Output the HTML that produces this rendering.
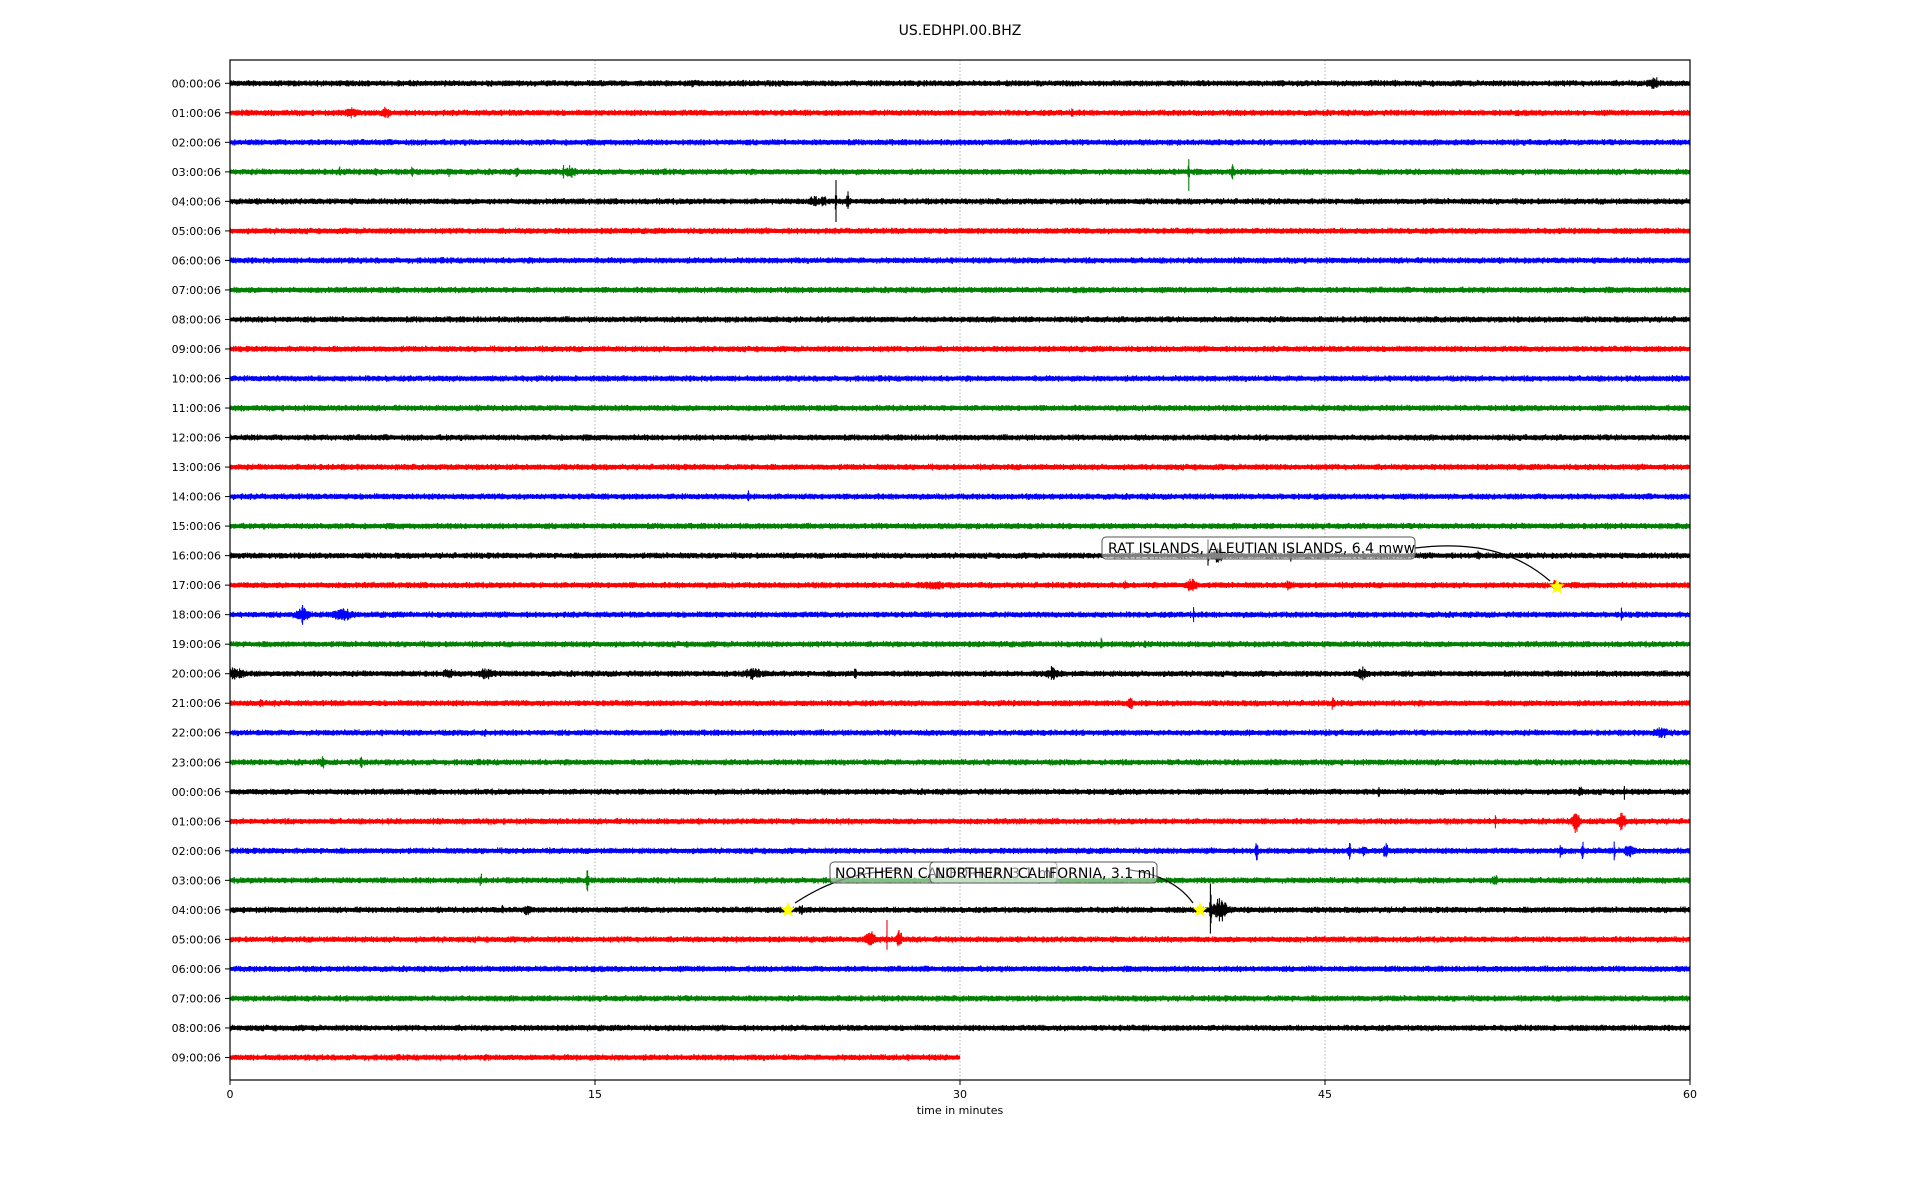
<!DOCTYPE html>
<html><head><meta charset="utf-8"><style>
html,body{margin:0;padding:0;background:#fff;width:1920px;height:1200px;overflow:hidden}
svg{display:block}
text{font-family:"DejaVu Sans","Liberation Sans",sans-serif;fill:#000}
</style></head><body>
<svg id="s" width="1920" height="1200" viewBox="0 0 1920 1200" xmlns="http://www.w3.org/2000/svg">
<rect width="1920" height="1200" fill="#fff"/>
<text x="960" y="35" font-size="14" text-anchor="middle">US.EDHPI.00.BHZ</text>
<g stroke="#b0b0b0" stroke-width="1" stroke-dasharray="1.5,2">
<line x1="595" y1="60" x2="595" y2="1080"/><line x1="960" y1="60" x2="960" y2="1080"/><line x1="1325" y1="60" x2="1325" y2="1080"/>
</g>
<g id="traces"></g>
<g id="ylab" font-size="11"></g>
<rect x="230" y="60" width="1460" height="1020" fill="none" stroke="#000" stroke-width="1.2"/>
<g stroke="#000" stroke-width="1">
<line x1="230" y1="1080" x2="230" y2="1085"/><line x1="595" y1="1080" x2="595" y2="1085"/><line x1="960" y1="1080" x2="960" y2="1085"/><line x1="1325" y1="1080" x2="1325" y2="1085"/><line x1="1690" y1="1080" x2="1690" y2="1085"/>
</g>
<g font-size="11" text-anchor="middle">
<text x="230" y="1098">0</text><text x="595" y="1098">15</text><text x="960" y="1098">30</text><text x="1325" y="1098">45</text><text x="1690" y="1098">60</text>
<text x="960" y="1114">time in minutes</text>
</g>
<path d="M1415,548 C1480,540 1520,555 1550,581" fill="none" stroke="#000" stroke-width="1.2"/>
<rect x="1102" y="537" width="313" height="22" rx="4" fill="#fff" fill-opacity="0.5" stroke="#555" stroke-width="1"/>
<text x="1108" y="553" font-size="14">RAT ISLANDS, ALEUTIAN ISLANDS, 6.4 mww</text>
<path d="M795,903 C830,880 860,872 900,870" fill="none" stroke="#000" stroke-width="1.2"/>
<path d="M1130,870 C1160,874 1180,885 1193,903" fill="none" stroke="#000" stroke-width="1.2"/>
<rect x="830" y="862" width="227" height="21" rx="4" fill="#fff" fill-opacity="0.5" stroke="#555" stroke-width="1"/>
<text x="835" y="878" font-size="14">NORTHERN CALIFORNIA, 3.1 ml</text>
<rect x="930" y="862" width="227" height="21" rx="4" fill="#fff" fill-opacity="0.5" stroke="#555" stroke-width="1"/>
<text x="935" y="878" font-size="14">NORTHERN CALIFORNIA, 3.1 ml</text>
<g id="stars" fill="#ffff00"></g>
</svg>
<script>
(function(){
var NS="http://www.w3.org/2000/svg";
var cols=["#000000","#ff0000","#0000ff","#008000"];
var seed=12345;function r(){seed=(seed*1103515245+12345)%2147483648;return seed/2147483648;}
var ev={3:[[13.7,14,0.02],[39.4,22,0.02],[41.2,8,0.05],[4.5,6,0.03],[14,5,0.15],[6,5,0.03],[11.8,4,0.05],[7.5,3,0.05],[9,3,0.05]],
4:[[24.9,28,0.02],[24.4,6,0.08],[25.4,10,0.05],[24,3,0.2]],
16:[[40.2,22,0.02],[40.6,7,0.2],[43.6,8,0.02],[51.3,4,0.05]],
17:[[36.8,5,0.05],[39.5,5,0.2],[43.5,5,0.1],[54.5,4,0.1],[29,2,0.5]],
18:[[3,8,0.2],[4.6,5,0.3],[39.6,7,0.02],[57.2,6,0.03]],
19:[[37.6,5,0.03],[35.8,4,0.05]],
20:[[0.2,4,0.4],[9,3,0.15],[10.5,3,0.3],[21.5,3,0.3],[25.7,5,0.05],[33.8,5,0.2],[46.5,4,0.2]],
21:[[37,5,0.1],[45.3,4,0.05],[1.3,4,0.05]],
22:[[10.5,4,0.05],[58.8,5,0.2]],
23:[[3.8,4,0.1],[5.4,4,0.05]],
24:[[47.2,4,0.03],[55.5,4,0.1],[57.3,8,0.02]],
25:[[52,5,0.03],[55.3,9,0.15],[57.2,10,0.12]],
26:[[42.2,13,0.05],[46,9,0.05],[46.6,6,0.05],[47.5,7,0.1],[54.7,9,0.05],[55.6,9,0.05],[56.9,12,0.02],[57.5,5,0.15]],
27:[[14.7,15,0.04],[10.3,5,0.05],[52,3,0.1]],
28:[[40.3,45,0.025],[40.7,12,0.25],[11.2,4,0.03],[12.2,3,0.15],[23.5,4,0.1]],
29:[[27,36,0.015],[26.3,9,0.15],[27.5,8,0.1]],
0:[[58.5,5,0.2],[19,3,0.03]],
1:[[5,3,0.2],[6.4,3,0.15],[34.6,3,0.05]],
14:[[21.3,4,0.03]]};
var g=document.getElementById("traces"),yl=document.getElementById("ylab");
for(var i=0;i<34;i++){
 var y=83.3+i*29.52;var xe=(i==33)?960:1690;var d="";
 var E=ev[i]||[];
 for(var x=230;x<=xe;x+=0.6){
  var m=(x-230)/1460*60;var a=1.8+r()*1.4;
  for(var k=0;k<E.length;k++){var dm=(m-E[k][0])/E[k][2];if(dm>-4&&dm<4){a+=E[k][1]*Math.exp(-dm*dm)*(0.3+r()*0.7);}}
  var up=a*(0.5+r()*0.6),dn=a*(0.5+r()*0.6);
  d+="M"+x.toFixed(1)+" "+(y-up).toFixed(1)+"V"+(y+dn).toFixed(1);
 }
 var p=document.createElementNS(NS,"path");p.setAttribute("d",d);p.setAttribute("stroke",cols[i%4]);p.setAttribute("stroke-width","1.1");p.setAttribute("fill","none");g.appendChild(p);
 var c=document.createElementNS(NS,"line");c.setAttribute("x1",230);c.setAttribute("x2",xe);c.setAttribute("y1",y);c.setAttribute("y2",y);c.setAttribute("stroke",cols[i%4]);c.setAttribute("stroke-width","3.6");g.appendChild(c);
 var h=(i%24);var t=document.createElementNS(NS,"text");t.setAttribute("x",221);t.setAttribute("y",y+4);t.setAttribute("text-anchor","end");t.textContent=(h<10?"0":"")+h+":00:06";yl.appendChild(t);
 var tk=document.createElementNS(NS,"line");tk.setAttribute("x1",225);tk.setAttribute("x2",230);tk.setAttribute("y1",y);tk.setAttribute("y2",y);tk.setAttribute("stroke","#000");yl.appendChild(tk);
}
function star(cx,cy,R){var s="";for(var j=0;j<10;j++){var rr=j%2?R*0.45:R;var an=-Math.PI/2+j*Math.PI/5;s+=(cx+rr*Math.cos(an)).toFixed(1)+","+(cy+rr*Math.sin(an)).toFixed(1)+" ";}
 var p=document.createElementNS(NS,"polygon");p.setAttribute("points",s);document.getElementById("stars").appendChild(p);}
star(1557,587,8);star(788,910,8);star(1200,910,8);
})();
</script>
</body></html>
